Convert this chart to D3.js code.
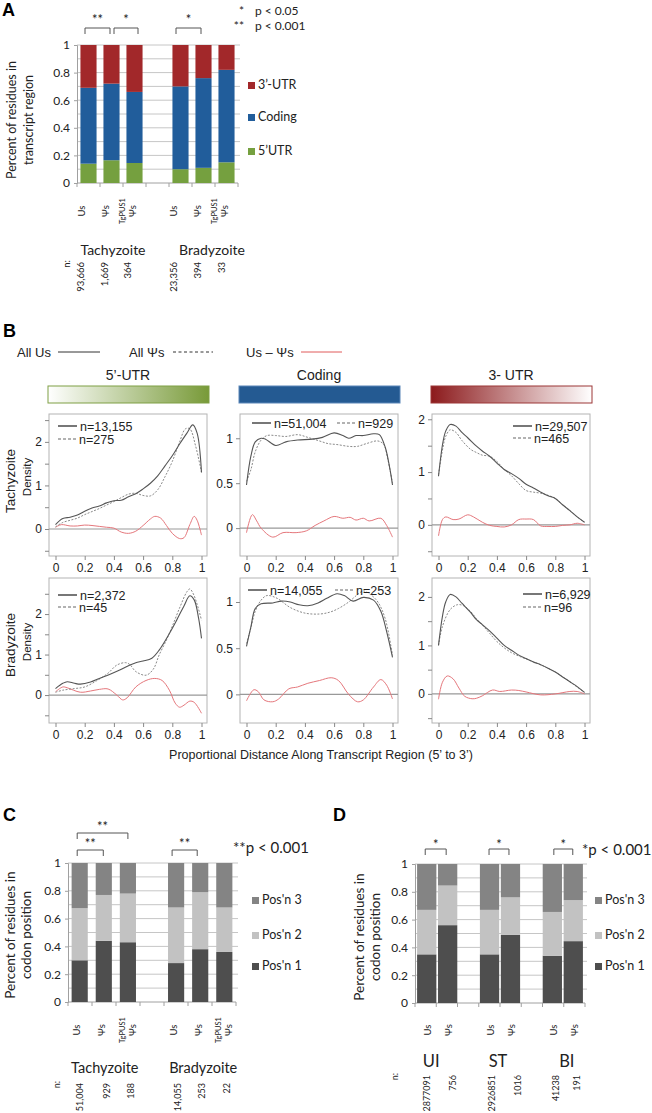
<!DOCTYPE html>
<html>
<head>
<meta charset="utf-8">
<script src="https://cdn.jsdelivr.net/npm/d3@7"></script>
<style>
  body { margin: 0; background: #fff; }
  svg { display: block; }
</style>
</head>
<body>
<svg id="fig" width="652" height="1113"></svg>
<script>
var XL = "Lato, 'Open Sans', sans-serif";
var AR = "'Liberation Sans', Arial, sans-serif";

// ---------- A: transcript region ----------
var aBars = ["tUs", "tPsi", "tTg", "gap", "bUs", "bPsi", "bTg"];
var aTicks = ["Us", "Ψs", ["TgPUS1", "Ψs"], "Us", "Ψs", ["TgPUS1", "Ψs"]];
var aUtr5 = [0.14, 0.165, 0.145, 0.10, 0.11, 0.15];
var aCoding = [0.55, 0.555, 0.515, 0.60, 0.65, 0.67];
var aUtr3 = [0.31, 0.28, 0.34, 0.30, 0.24, 0.18];
var aN = ["93,666", "1,669", "364", "23,356", "394", "33"];
var aGroups = ["Tachyzoite", "Bradyzoite"];

// ---------- C: codon position, stages ----------
var cBars = ["tUs", "tPsi", "tTg", "gap", "bUs", "bPsi", "bTg"];
var cTicks = ["Us", "Ψs", ["TgPUS1", "Ψs"], "Us", "Ψs", ["TgPUS1", "Ψs"]];
var cPos1 = [0.30, 0.44, 0.43, 0.28, 0.38, 0.36];
var cPos2 = [0.375, 0.33, 0.35, 0.40, 0.41, 0.32];
var cPos3 = [0.325, 0.23, 0.22, 0.32, 0.21, 0.32];
var cN = ["51,004", "929", "188", "14,055", "253", "22"];
var cGroups = ["Tachyzoite", "Bradyzoite"];

// ---------- D: codon position, UI / ST / BI ----------
var dBars = ["uUs", "uPsi", "gap1", "sUs", "sPsi", "gap2", "bUs", "bPsi"];
var dTicks = ["Us", "Ψs", "Us", "Ψs", "Us", "Ψs"];
var dPos1 = [0.35, 0.56, 0.35, 0.49, 0.34, 0.445];
var dPos2 = [0.32, 0.285, 0.32, 0.27, 0.315, 0.295];
var dPos3 = [0.33, 0.155, 0.33, 0.24, 0.345, 0.26];
var dN = ["2877091", "756", "2926851", "1016", "41238", "191"];
var dGroups = ["UI", "ST", "BI"];

// ---------- B: density curves [x, density] ----------
var tach5Us = [[0,0.1],[0.05,0.24],[0.1,0.27],[0.15,0.32],[0.2,0.41],[0.25,0.48],[0.3,0.53],[0.35,0.6],[0.4,0.65],[0.45,0.66],[0.5,0.74],[0.55,0.81],[0.6,0.92],[0.65,1.05],[0.7,1.22],[0.75,1.45],[0.8,1.68],[0.85,1.95],[0.9,2.2],[0.94,2.39],[0.97,2.2],[1,1.3]];
var tach5Psi = [[0,0.05],[0.05,0.15],[0.1,0.2],[0.15,0.25],[0.2,0.33],[0.25,0.4],[0.3,0.47],[0.35,0.55],[0.4,0.63],[0.45,0.72],[0.5,0.8],[0.55,0.82],[0.6,0.77],[0.65,0.76],[0.7,0.9],[0.75,1.2],[0.8,1.55],[0.85,2.0],[0.89,2.3],[0.92,2.3],[0.96,1.9],[1,1.3]];
var tach5Diff = [[0,0.04],[0.04,0.1],[0.1,0.07],[0.15,0.07],[0.2,0.09],[0.25,0.08],[0.3,0.06],[0.35,0.04],[0.4,0.02],[0.45,-0.07],[0.5,-0.1],[0.55,-0.05],[0.6,0.08],[0.65,0.23],[0.68,0.29],[0.72,0.25],[0.76,0.08],[0.8,-0.1],[0.85,-0.22],[0.88,-0.2],[0.92,0.1],[0.95,0.29],[0.97,0.2],[1,-0.14]];

var tachCdsUs = [[0,0.48],[0.03,0.8],[0.06,0.96],[0.1,1.0],[0.13,0.99],[0.2,0.92],[0.27,0.96],[0.35,0.98],[0.45,0.99],[0.52,1.01],[0.6,1.06],[0.66,1.03],[0.7,1.0],[0.75,1.03],[0.8,1.03],[0.87,1.05],[0.91,1.04],[0.95,0.9],[0.98,0.68],[1,0.48]];
var tachCdsPsi = [[0,0.52],[0.03,0.65],[0.06,0.85],[0.1,0.98],[0.14,1.03],[0.2,1.03],[0.27,1.02],[0.35,1.04],[0.42,1.01],[0.5,0.97],[0.56,0.94],[0.62,0.93],[0.7,0.91],[0.76,0.91],[0.82,0.94],[0.9,0.97],[0.94,0.93],[0.97,0.75],[1,0.5]];
var tachCdsDiff = [[0,-0.05],[0.04,0.15],[0.07,0.08],[0.1,0.0],[0.18,-0.1],[0.25,-0.05],[0.34,-0.05],[0.41,-0.03],[0.47,0.03],[0.53,0.08],[0.6,0.13],[0.66,0.11],[0.71,0.12],[0.75,0.09],[0.8,0.11],[0.84,0.08],[0.92,0.11],[0.96,0.03],[1,-0.1]];

var tach3Us = [[0,0.92],[0.03,1.56],[0.05,1.78],[0.08,1.9],[0.12,1.87],[0.16,1.75],[0.2,1.65],[0.26,1.49],[0.3,1.4],[0.35,1.3],[0.4,1.17],[0.45,1.05],[0.5,0.97],[0.55,0.88],[0.6,0.77],[0.65,0.7],[0.7,0.62],[0.75,0.55],[0.8,0.5],[0.85,0.38],[0.9,0.27],[0.95,0.15],[1,0.05]];
var tach3Psi = [[0,0.95],[0.03,1.46],[0.05,1.68],[0.08,1.8],[0.12,1.75],[0.16,1.6],[0.22,1.43],[0.26,1.37],[0.3,1.32],[0.35,1.3],[0.4,1.2],[0.45,1.05],[0.5,0.93],[0.55,0.78],[0.6,0.65],[0.65,0.62],[0.7,0.6],[0.75,0.56],[0.8,0.5],[0.85,0.38],[0.9,0.27],[0.95,0.15],[1,0.05]];
var tach3Diff = [[0,-0.21],[0.027,0.1],[0.05,0.15],[0.1,0.1],[0.14,0.11],[0.2,0.19],[0.24,0.15],[0.3,0.05],[0.35,-0.01],[0.4,-0.03],[0.45,-0.04],[0.5,0.0],[0.55,0.1],[0.6,0.11],[0.65,0.1],[0.7,-0.02],[0.75,-0.03],[0.8,-0.03],[0.85,-0.01],[0.9,0.0],[0.95,0.03],[1,0.0]];

var brad5Us = [[0,0.16],[0.05,0.29],[0.08,0.33],[0.13,0.29],[0.17,0.27],[0.24,0.32],[0.3,0.41],[0.37,0.51],[0.44,0.62],[0.51,0.74],[0.55,0.8],[0.6,0.84],[0.66,0.91],[0.71,1.11],[0.78,1.52],[0.83,1.85],[0.88,2.2],[0.92,2.45],[0.95,2.35],[0.98,1.9],[1,1.4]];
var brad5Psi = [[0,0.07],[0.05,0.12],[0.13,0.16],[0.2,0.2],[0.28,0.35],[0.36,0.54],[0.42,0.74],[0.48,0.8],[0.51,0.75],[0.55,0.58],[0.62,0.49],[0.67,0.64],[0.71,0.99],[0.76,1.36],[0.8,1.7],[0.85,2.15],[0.9,2.55],[0.92,2.62],[0.95,2.45],[1,1.85]];
var brad5Diff = [[0,0.08],[0.05,0.2],[0.08,0.18],[0.17,0.07],[0.24,0.1],[0.3,0.14],[0.36,0.15],[0.42,0.0],[0.46,-0.12],[0.49,-0.07],[0.55,0.2],[0.62,0.36],[0.68,0.41],[0.73,0.36],[0.78,0.12],[0.82,-0.2],[0.85,-0.3],[0.88,-0.25],[0.92,-0.15],[0.95,-0.18],[1,-0.45]];

var bradCdsUs = [[0,0.52],[0.03,0.73],[0.06,0.93],[0.1,0.98],[0.18,0.99],[0.24,1.01],[0.3,1.0],[0.36,0.97],[0.42,0.96],[0.49,0.99],[0.55,1.04],[0.62,1.09],[0.67,1.07],[0.73,1.01],[0.8,1.05],[0.87,1.02],[0.92,0.9],[0.96,0.68],[1,0.4]];
var bradCdsPsi = [[0,0.55],[0.03,0.72],[0.06,0.9],[0.1,1.02],[0.14,1.07],[0.21,1.04],[0.3,0.94],[0.4,0.88],[0.5,0.87],[0.57,0.89],[0.63,0.93],[0.7,1.0],[0.76,1.08],[0.8,1.12],[0.85,1.08],[0.9,1.0],[0.95,0.82],[1,0.42]];
var bradCdsDiff = [[0,-0.07],[0.05,0.05],[0.08,0.03],[0.12,-0.06],[0.18,-0.08],[0.22,-0.05],[0.29,0.06],[0.35,0.08],[0.42,0.12],[0.5,0.15],[0.58,0.18],[0.63,0.15],[0.7,0.0],[0.76,-0.08],[0.8,-0.06],[0.87,0.08],[0.92,0.16],[0.96,0.1],[1,-0.05]];

var brad3Us = [[0,1.0],[0.027,1.6],[0.05,1.9],[0.08,2.05],[0.12,2.0],[0.16,1.87],[0.22,1.68],[0.26,1.53],[0.3,1.43],[0.35,1.3],[0.4,1.15],[0.45,1.0],[0.5,0.9],[0.55,0.8],[0.6,0.73],[0.65,0.66],[0.7,0.6],[0.75,0.53],[0.8,0.45],[0.85,0.35],[0.9,0.25],[0.95,0.15],[1,0.03]];
var brad3Psi = [[0,1.0],[0.027,1.39],[0.08,1.74],[0.13,1.84],[0.17,1.82],[0.22,1.7],[0.26,1.55],[0.3,1.42],[0.35,1.25],[0.4,1.08],[0.45,0.95],[0.5,0.85],[0.55,0.78],[0.6,0.72],[0.65,0.66],[0.7,0.6],[0.75,0.53],[0.8,0.45],[0.85,0.35],[0.9,0.25],[0.95,0.14],[1,0.03]];
var brad3Diff = [[0,-0.11],[0.027,0.24],[0.06,0.37],[0.1,0.31],[0.14,0.12],[0.18,-0.05],[0.23,-0.1],[0.26,-0.09],[0.3,-0.04],[0.37,0.08],[0.42,0.05],[0.5,0.08],[0.55,0.07],[0.6,0.04],[0.7,-0.02],[0.8,0.0],[0.9,0.05],[0.95,0.05],[1,0.0]];

var regionTitles = ["5’-UTR", "Coding", "3- UTR"];
var nUs = [["n=13,155", "n=51,004", "n=29,507"], ["n=2,372", "n=14,055", "n=6,929"]];
var nPsi = [["n=275", "n=929", "n=465"], ["n=45", "n=253", "n=96"]];
var xTicksB = [0, 0.2, 0.4, 0.6, 0.8, 1];

var svg = d3.select("#fig");

function vtext(g, x, y, s, anchor, size) {
  return g.append("text")
    .attr("transform", "translate(" + x + "," + y + ") rotate(-90)")
    .attr("text-anchor", anchor)
    .attr("dy", "0.35em")
    .attr("font-size", size)
    .text(s);
}

function bracket(g, x1, x2, y, leg, label, labelY, size) {
  g.append("path")
    .attr("d", "M" + x1 + "," + (y + leg) + "V" + y + "H" + x2 + "V" + (y + leg))
    .attr("fill", "none").attr("stroke", "#555").attr("stroke-width", 1);
  g.append("text").attr("x", (x1 + x2) / 2).attr("y", labelY)
    .attr("text-anchor", "middle").attr("font-size", size).text(label);
}

function stackedPanel(c) {
  var g = svg.append("g").attr("font-family", XL).attr("fill", "#222");
  var real = c.bars.filter(function(b) { return b.indexOf("gap") < 0; });
  var x = d3.scaleBand().domain(c.bars).range(c.xRange).paddingInner(c.pi).paddingOuter(c.po);
  var y = d3.scaleLinear().domain([0, 1]).range(c.yRange);
  var cx = function(b) { return x(b) + x.bandwidth() / 2; };

  g.append("g").selectAll("line")
    .data(d3.range(1, 11).map(function(i) { return i / 10; }))
    .join("line")
    .attr("x1", c.xRange[0]).attr("x2", c.xRange[1] + 2)
    .attr("y1", function(d) { return y(d); }).attr("y2", function(d) { return y(d); })
    .attr("stroke", "#c6c6c6");

  var ya = g.append("g").attr("transform", "translate(" + c.xRange[0] + ",0)")
    .call(d3.axisLeft(y).tickValues([0, 0.2, 0.4, 0.6, 0.8, 1]).tickSize(3)
      .tickPadding(c.yPad).tickFormat(d3.format("~g")));
  ya.select(".domain").attr("stroke", "#a0a0a0");
  ya.selectAll(".tick line").attr("stroke", "#a0a0a0");
  ya.selectAll("text").attr("font-size", 12).attr("font-family", XL).attr("fill", "#222");

  g.append("line").attr("x1", c.xRange[0]).attr("x2", c.xRange[1])
    .attr("y1", y(0)).attr("y2", y(0)).attr("stroke", "#a0a0a0");
  var st = (c.xRange[1] - c.xRange[0]) / c.bars.length;
  g.append("g").selectAll("line").data(d3.range(c.bars.length + 1)).join("line")
    .attr("x1", function(i) { return c.xRange[0] + i * st; })
    .attr("x2", function(i) { return c.xRange[0] + i * st; })
    .attr("y1", y(0)).attr("y2", y(0) + 4).attr("stroke", "#a0a0a0");

  var table = real.map(function(b, i) {
    var r = { bar: b };
    c.layers.forEach(function(l) { r[l.key] = l.vals[i]; });
    return r;
  });
  var series = d3.stack().keys(c.layers.map(function(l) { return l.key; }))(table);
  g.append("g").selectAll("g").data(series).join("g")
    .attr("fill", function(s, i) { return c.layers[i].color; })
    .selectAll("rect").data(function(s) { return s; }).join("rect")
    .attr("x", function(d) { return x(d.data.bar); })
    .attr("width", x.bandwidth())
    .attr("y", function(d) { return y(d[1]); })
    .attr("height", function(d) { return y(d[0]) - y(d[1]); });

  // rotated category labels
  real.forEach(function(b, i) {
    var lab = c.ticks[i], px = cx(b) + c.tickDx[i];
    if (typeof lab === "string") {
      vtext(g, px, c.tickY, lab, "middle", c.tickFs);
    } else {
      var t = g.append("text").attr("transform", "translate(" + px + "," + c.tickY + ") rotate(-90)")
        .attr("text-anchor", "middle");
      t.append("tspan").attr("x", 0).attr("dy", "-0.3em").attr("font-size", 7.5).text(lab[0]);
      t.append("tspan").attr("x", 0).attr("dy", "1.15em").attr("font-size", c.tickFs).text(lab[1]);
    }
  });

  // group labels
  c.groups.forEach(function(name, gi) {
    var members = real.slice(gi * c.perGroup, (gi + 1) * c.perGroup);
    g.append("text").attr("x", d3.mean(members, cx) + c.groupDx[gi]).attr("y", c.groupY)
      .attr("text-anchor", "middle").attr("font-size", c.groupFs).text(name);
  });

  // n counts
  vtext(g, c.nLabelX, c.nY - 2, "n:", "end", c.nFs);
  real.forEach(function(b, i) {
    vtext(g, cx(b) + c.nDx[i], c.nY, c.n[i], "end", c.nFs);
  });

  // y title
  c.yTitle.forEach(function(s, i) {
    vtext(g, c.yTitleX[i], c.yTitleY, s, "middle", c.yTitleFs);
  });

  // legend (top layer first)
  c.layers.slice().reverse().forEach(function(l, i) {
    g.append("rect").attr("x", c.legX).attr("y", c.legY[i]).attr("width", 7).attr("height", 7).attr("fill", l.color);
    g.append("text").attr("x", c.legX + 10).attr("y", c.legY[i] + 7).attr("font-size", 12.5).text(l.name);
  });

  // significance brackets
  c.brackets.forEach(function(br) {
    bracket(g, cx(real[br[0]]) + br[2], cx(real[br[1]]) + br[3], br[4], 6, br[5], br[6], c.starFs);
  });
  return g;
}

// ---------- Panel A ----------
var gA = stackedPanel({
  bars: aBars, ticks: aTicks, xRange: [77, 238], yRange: [183, 45], pi: 0.3, po: 0.15, yPad: 4,
  layers: [
    { key: "utr5", name: "5’UTR", vals: aUtr5, color: "#75a03f" },
    { key: "coding", name: "Coding", vals: aCoding, color: "#215d9b" },
    { key: "utr3", name: "3’-UTR", vals: aUtr3, color: "#a2282a" }
  ],
  tickDx: [-7, -6, -7, -7, -6, -7], tickY: 211, tickFs: 9.5,
  groups: aGroups, perGroup: 3, groupDx: [1.5, 8.5], groupY: 255, groupFs: 14,
  n: aN, nDx: [-8, -7, -7, -7, -6, -5], nY: 262, nLabelX: 66.5, nFs: 9.5,
  yTitle: ["Percent of residues in", "transcript region"], yTitleX: [12, 29], yTitleY: 120, yTitleFs: 12.5,
  legX: 248, legY: [82, 114, 148],
  brackets: [[0, 1, -3.5, -1.5, 28, "**", 24], [1, 2, 2.5, 3.5, 28, "*", 24], [3, 4, -4.5, -2.5, 28, "*", 24]],
  starFs: 13
});
gA.append("text").attr("x", 244).attr("y", 15).attr("text-anchor", "end").attr("font-size", 12).text("*");
gA.append("text").attr("x", 255).attr("y", 14.5).attr("font-size", 12).text("p < 0.05");
gA.append("text").attr("x", 244).attr("y", 30).attr("text-anchor", "end").attr("font-size", 12).text("**");
gA.append("text").attr("x", 255).attr("y", 29.5).attr("font-size", 12).text("p < 0.001");

// ---------- Panel C ----------
var gC = stackedPanel({
  bars: cBars, ticks: cTicks, xRange: [68, 236], yRange: [1002, 863], pi: 0.33, po: 0.15, yPad: 4,
  layers: [
    { key: "p1", name: "Pos'n 1", vals: cPos1, color: "#4e4e4e" },
    { key: "p2", name: "Pos'n 2", vals: cPos2, color: "#c2c2c2" },
    { key: "p3", name: "Pos'n 3", vals: cPos3, color: "#848484" }
  ],
  tickDx: [-3, -2, -1, -2, -2, -1], tickY: 1030, tickFs: 9.5,
  groups: cGroups, perGroup: 3, groupDx: [1, 3], groupY: 1073, groupFs: 14.5,
  n: cN, nDx: [0, 3, 3, 2, 2, 3], nY: 1083, nLabelX: 57, nFs: 9,
  yTitle: ["Percent of residues in", "codon position"], yTitleX: [10, 26], yTitleY: 935, yTitleFs: 13.5,
  legX: 252, legY: [897, 932, 963],
  brackets: [[0, 2, -2.5, 0, 833, "**", 831], [0, 1, -2.5, -0.5, 850, "**", 848], [3, 4, -4, -3, 850, "**", 848]],
  starFs: 13
});
gC.append("text").attr("x", 233).attr("y", 853).attr("font-size", 15).text("**p < 0.001");

// ---------- Panel D ----------
var gD = stackedPanel({
  bars: dBars, ticks: dTicks, xRange: [415, 585], yRange: [1003, 864], pi: 0.08, po: 0.1, yPad: 4,
  layers: [
    { key: "p1", name: "Pos'n 1", vals: dPos1, color: "#4e4e4e" },
    { key: "p2", name: "Pos'n 2", vals: dPos2, color: "#c2c2c2" },
    { key: "p3", name: "Pos'n 3", vals: dPos3, color: "#848484" }
  ],
  tickDx: [1, 1, 1, 1, 1, 1], tickY: 1030, tickFs: 9.5,
  groups: dGroups, perGroup: 2, groupDx: [-6, -2, 4], groupY: 1067, groupFs: 16.5,
  n: dN, nDx: [0, 5, 2, 7, 4, 4], nY: 1075, nLabelX: 395, nFs: 9,
  yTitle: ["Percent of residues in", "codon position"], yTitleX: [359, 375], yTitleY: 937, yTitleFs: 13.5,
  legX: 595, legY: [897, 932, 963],
  brackets: [[0, 1, -1.5, -1.5, 849, "*", 849], [2, 3, -0.5, -1.5, 849, "*", 849], [4, 5, 1.5, -0.5, 849, "*", 849]],
  starFs: 13
});
gD.append("text").attr("x", 582).attr("y", 855).attr("font-size", 15).text("*p < 0.001");

// panel letters
[["A", 2, 16], ["B", 3, 337], ["C", 3, 821], ["D", 333, 821]].forEach(function(p) {
  svg.append("text").attr("x", p[1]).attr("y", p[2]).attr("font-family", AR)
    .attr("font-weight", "bold").attr("font-size", 18).text(p[0]);
});

// ---------- Panel B ----------
var gB = svg.append("g").attr("font-family", AR).attr("fill", "#222");

// legend row
gB.append("text").attr("x", 17).attr("y", 357).attr("font-size", 13).text("All Us");
gB.append("line").attr("x1", 58).attr("x2", 100).attr("y1", 352).attr("y2", 352).attr("stroke", "#333");
gB.append("text").attr("x", 129).attr("y", 357).attr("font-size", 13).text("All Ψs");
gB.append("line").attr("x1", 173).attr("x2", 213).attr("y1", 352).attr("y2", 352).attr("stroke", "#333").attr("stroke-dasharray", "3,2.5");
gB.append("text").attr("x", 246).attr("y", 357).attr("font-size", 13).text("Us – Ψs");
gB.append("line").attr("x1", 301).attr("x2", 342).attr("y1", 352).attr("y2", 352).attr("stroke", "#e05a5a");

// region headers with gradient boxes
var defs = svg.append("defs");
var g5 = defs.append("linearGradient").attr("id", "grad5");
g5.append("stop").attr("offset", "0%").attr("stop-color", "#ffffff");
g5.append("stop").attr("offset", "100%").attr("stop-color", "#789a38");
var g3 = defs.append("linearGradient").attr("id", "grad3");
g3.append("stop").attr("offset", "0%").attr("stop-color", "#8c1a1c");
g3.append("stop").attr("offset", "100%").attr("stop-color", "#ffffff");

var colLeft = [49, 240, 432];
var headFill = ["url(#grad5)", "#245a92", "url(#grad3)"];
var headStroke = ["#7f9f45", "#5a86b8", "#9c3636"];
colLeft.forEach(function(L, i) {
  gB.append("text").attr("x", L + 79).attr("y", 380).attr("text-anchor", "middle").attr("font-size", 14).text(regionTitles[i]);
  gB.append("rect").attr("x", L - 1).attr("y", 386).attr("width", 161).attr("height", 17)
    .attr("fill", headFill[i]).attr("stroke", headStroke[i]);
});

var curves = [
  [[tach5Us, tach5Psi, tach5Diff], [tachCdsUs, tachCdsPsi, tachCdsDiff], [tach3Us, tach3Psi, tach3Diff]],
  [[brad5Us, brad5Psi, brad5Diff], [bradCdsUs, bradCdsPsi, bradCdsDiff], [brad3Us, brad3Psi, brad3Diff]]
];
var rowTop = [414, 578], rowH = [142, 145];
var yDomains = [
  [[-0.62, 2.64], [-0.31, 1.27], [-0.59, 2.1]],
  [[-0.69, 2.89], [-0.31, 1.26], [-0.6, 2.39]]
];
var yTickSets = [[-0.5, 0, 0.5, 1, 1.5, 2, 2.5], [0, 0.5, 1], [-0.5, 0, 0.5, 1, 1.5, 2]];
// legend placement inside each panel: [lineX, lineY, psiLineX, psiLineY]
var legPos = [
  [[9, 12, 9, 25], [12, 9, 97, 9], [81, 12, 81, 24]],
  [[9, 17, 9, 29], [8, 12, 95, 12], [91, 16, 91, 29]]
];

rowTop.forEach(function(T, r) {
  colLeft.forEach(function(L, ci) {
    var H = rowH[r];
    var x = d3.scaleLinear().domain([0, 1]).range([L + 6.5, L + 152.5]);
    var y = d3.scaleLinear().domain(yDomains[r][ci]).range([T + H, T]);
    var pg = gB.append("g");
    pg.append("rect").attr("x", L).attr("y", T).attr("width", 158).attr("height", H)
      .attr("fill", "none").attr("stroke", "#b4b4b4");

    var ticks = yTickSets[ci].filter(function(v) { return v >= yDomains[r][ci][0] && v <= yDomains[r][ci][1]; });
    var ya = pg.append("g").attr("transform", "translate(" + L + ",0)")
      .call(d3.axisLeft(y).tickValues(ticks).tickSize(4)
        .tickFormat(function(d) { return (ci === 1 || d % 1 === 0) ? String(d) : ""; }));
    ya.select(".domain").remove();
    ya.selectAll(".tick line").attr("stroke", "#888");
    ya.selectAll("text").attr("font-size", 12).attr("font-family", AR).attr("fill", "#222");

    var xa = pg.append("g").attr("transform", "translate(0," + (T + H) + ")")
      .call(d3.axisBottom(x).tickValues(xTicksB).tickSize(4).tickFormat(function(d) { return String(d); }));
    xa.select(".domain").remove();
    xa.selectAll(".tick line").attr("stroke", "#888");
    xa.selectAll("text").attr("font-size", 12).attr("font-family", AR).attr("fill", "#222");

    pg.append("line").attr("x1", L).attr("x2", L + 158).attr("y1", y(0)).attr("y2", y(0))
      .attr("stroke", "#999").attr("stroke-width", 1.2);

    var line = d3.line()
      .x(function(d) { return x(d[0]); })
      .y(function(d) { return y(d[1]); })
      .curve(d3.curveCatmullRom.alpha(0.5));
    var set = curves[r][ci];
    pg.append("path").datum(set[2]).attr("d", line).attr("fill", "none").attr("stroke", "#e5777c").attr("stroke-width", 1);
    pg.append("path").datum(set[1]).attr("d", line).attr("fill", "none").attr("stroke", "#8a8a8a")
      .attr("stroke-width", 1).attr("stroke-dasharray", "2,1.5");
    pg.append("path").datum(set[0]).attr("d", line).attr("fill", "none").attr("stroke", "#555").attr("stroke-width", 1.1);

    var lp = legPos[r][ci];
    pg.append("line").attr("x1", L + lp[0]).attr("x2", L + lp[0] + 19).attr("y1", T + lp[1]).attr("y2", T + lp[1])
      .attr("stroke", "#555").attr("stroke-width", 1.6);
    pg.append("text").attr("x", L + lp[0] + 22).attr("y", T + lp[1] + 4.5).attr("font-size", 12.5).text(nUs[r][ci]);
    pg.append("line").attr("x1", L + lp[2]).attr("x2", L + lp[2] + 19).attr("y1", T + lp[3]).attr("y2", T + lp[3])
      .attr("stroke", "#666").attr("stroke-width", 1.2).attr("stroke-dasharray", "3,2");
    pg.append("text").attr("x", L + lp[2] + 21).attr("y", T + lp[3] + 4.5).attr("font-size", 12.5).text(nPsi[r][ci]);
  });
});

vtext(gB, 10, 481, "Tachyzoite", "middle", 13.5);
vtext(gB, 27, 477, "Density", "middle", 11.5);
vtext(gB, 10, 645, "Bradyzoite", "middle", 13.5);
vtext(gB, 27, 642, "Density", "middle", 11.5);
gB.append("text").attr("x", 321).attr("y", 759).attr("text-anchor", "middle").attr("font-size", 12.5)
  .text("Proportional Distance Along Transcript Region (5’ to 3’)");
</script>
</body>
</html>
